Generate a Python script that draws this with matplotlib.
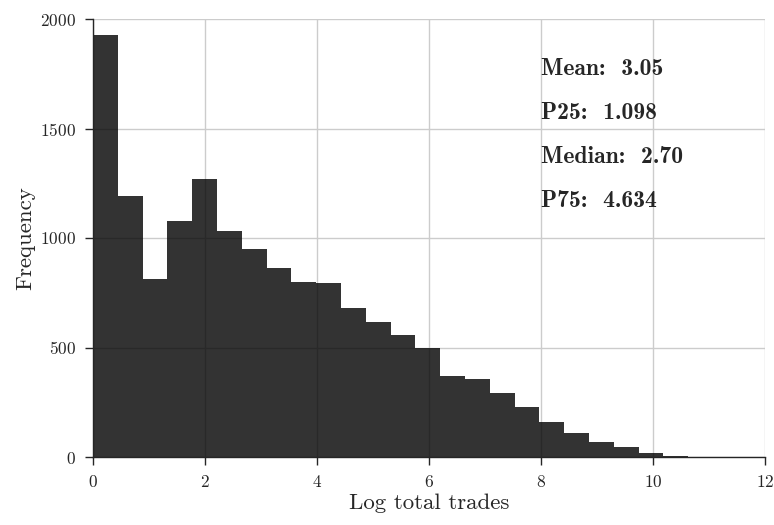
import numpy as np
import matplotlib.pyplot as plt

plt.rcParams.update(
    {
        "font.family": "cmr10",
        "mathtext.fontset": "cm",
        "axes.formatter.use_mathtext": True,
        "axes.unicode_minus": False,
    }
)

# Histogram of log(1 + total trades): 26 equal bins over [0, ln(1e5)]
bin_max = np.log(1e5)
n_bins = 26
counts = [
    1928, 1191, 814, 1078, 1269, 1033, 950, 865, 798, 795,
    681, 615, 556, 500, 370, 358, 291, 230, 160, 110,
    69, 47, 18, 4, 2, 1,
]
stats_labels = ["Mean: 3.05", "P25: 1.098", "Median: 2.70", "P75: 4.634"]

edges = np.linspace(0, bin_max, n_bins + 1)

fig = plt.figure(figsize=(7.74, 5.25), dpi=100)
ax = fig.add_axes([93 / 774, 1 - 457 / 525, 672 / 774, 438 / 525])

ax.bar(
    edges[:-1],
    counts,
    width=np.diff(edges),
    align="edge",
    color="black",
    alpha=0.8,
    linewidth=0,
    zorder=2,
)

ax.set_xlim(0, 12)
ax.set_ylim(0, 2000)
ax.set_xticks(np.arange(0, 13, 2))
ax.set_yticks(np.arange(0, 2001, 500))
ax.grid(True, color="#cccccc", linewidth=1.0, zorder=0)
ax.set_axisbelow(True)

for side in ["top", "right"]:
    ax.spines[side].set_visible(False)
for side in ["left", "bottom"]:
    ax.spines[side].set_color("#262626")
    ax.spines[side].set_linewidth(1.0)

ax.tick_params(direction="out", length=6, width=1.0, colors="#262626",
               labelsize=12.5, pad=6)

ax.set_xlabel("Log total trades", fontsize=16.5, color="#262626", labelpad=3)
ax.set_ylabel("Frequency", fontsize=16.5, color="#262626", labelpad=4)

for i, label in enumerate(stats_labels):
    ax.text(
        0.666,
        0.872 - i * 0.1003,
        label.replace(": ", ":  "),
        transform=ax.transAxes,
        fontsize=17,
        family="cmb10",
        color="#262626",
        va="baseline",
        ha="left",
    )

fig.savefig("out.png", dpi=100)
